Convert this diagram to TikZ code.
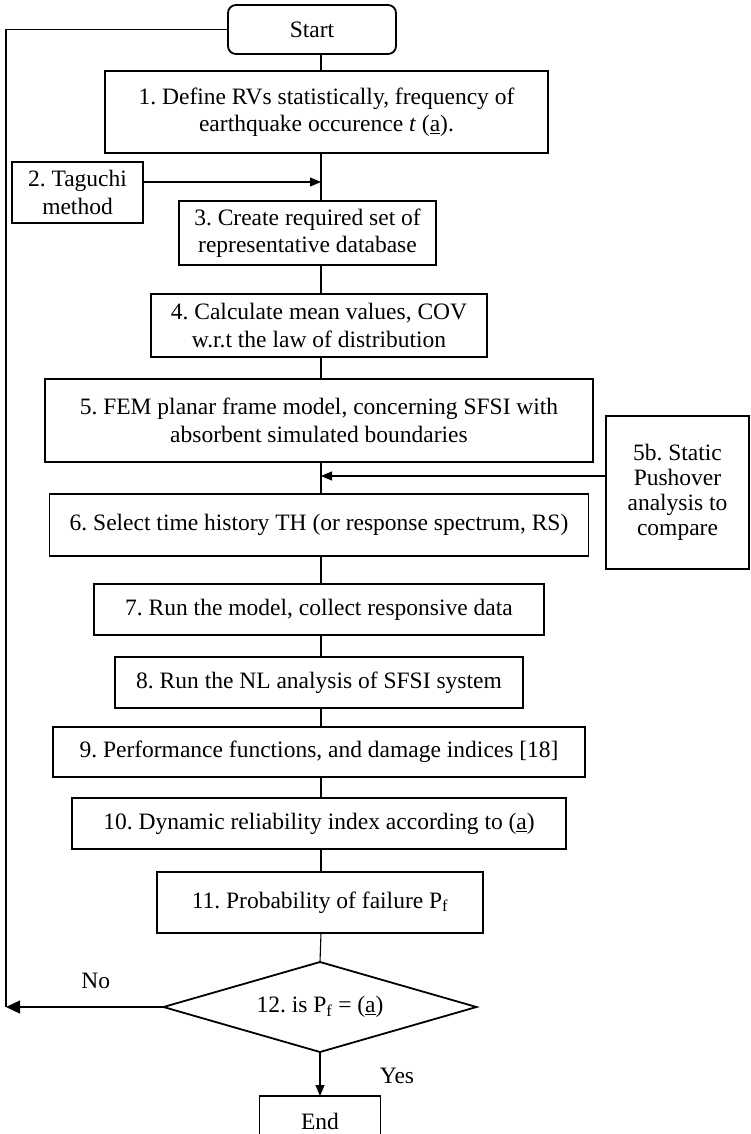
\documentclass[tikz,border=0pt]{standalone}
\usepackage{fontspec}
\setmainfont{Liberation Serif}
\usepackage{tikz}
\usetikzlibrary{positioning,arrows.meta,shapes.geometric}
\tikzset{
  stepbox/.style={rectangle, draw, line width=1.8pt, align=center, inner sep=3pt, outer sep=0pt},
  termbox/.style={stepbox, rounded corners=8pt},
  sidebox/.style={stepbox, font=\fontsize{23.5}{25}\selectfont},
  decision/.style={diamond, draw, line width=1.8pt, aspect=3.5, inner sep=0pt, outer sep=0pt},
  fwd/.style={->, line width=1.1pt, >={Triangle[length=11pt,width=9pt]}},
  fwdbig/.style={->, line width=1.1pt, >={Triangle[length=14pt,width=13pt]}},
  link/.style={line width=1.1pt},
}

\begin{document}
\frenchspacing
\begin{tikzpicture}[x=1pt, y=-1pt, every node/.style={font=\fontsize{23.5}{27.5}\selectfont}]
  \useasboundingbox (0,0) rectangle (751,1134);
  \coordinate (trunk) at (321,0);
  \coordinate (loopx) at (6,0);

  \node[termbox, minimum width=168pt, minimum height=49pt] (start) at (312,29.5) {Start};
  \node[stepbox, minimum width=443pt, minimum height=82pt] (s1) [below=17pt of start, xshift=14.5pt]
    {1. Define RVs statistically, frequency of\\ earthquake occurence \textit{t} (\underline{a}).};
  \node[stepbox, minimum width=131pt, minimum height=61pt] (tag) [below=9pt of s1.south west, xshift=-27.5pt]
    {2. Taguchi\\ method};
  \node[stepbox, minimum width=257pt, minimum height=64pt] (s3) [below=48pt of s1, xshift=-19pt]
    {3. Create required set of\\ representative database};
  \node[stepbox, minimum width=336pt, minimum height=63pt] (s4) [below=29pt of s3, xshift=11.5pt]
    {4. Calculate mean values, COV\\ w.r.t the law of distribution};
  \node[stepbox, minimum width=548pt, minimum height=83pt] (s5) [below=22pt of s4]
    {5. FEM planar frame model, concerning SFSI with\\ absorbent simulated boundaries};
  \node[sidebox, minimum width=143pt, minimum height=153pt] (s5b) [right=13pt of s5.south east, yshift=-30.5pt]
    {5b. Static\\ Pushover\\ analysis to\\ compare};
  \node[stepbox, minimum width=539pt, minimum height=62pt] (s6) [below=32pt of s5]
    {6. Select time history TH (or response spectrum, RS)};
  \node[stepbox, minimum width=450pt, minimum height=51pt] (s7) [below=28pt of s6]
    {7. Run the model, collect responsive data};
  \node[stepbox, minimum width=408pt, minimum height=51pt] (s8) [below=22pt of s7]
    {8. Run the NL analysis of SFSI system};
  \node[stepbox, minimum width=532pt, minimum height=50pt] (s9) [below=19pt of s8]
    {9. Performance functions, and damage indices [18]};
  \node[stepbox, minimum width=494pt, minimum height=51pt] (s10) [below=21pt of s9]
    {10. Dynamic reliability index according to (\underline{a})};
  \node[stepbox, minimum width=326pt, minimum height=61pt] (s11) [below=23pt of s10, xshift=1pt]
    {11. Probability of failure P\textsubscript{f}};
  \node[decision, minimum width=313pt, minimum height=90pt] (dec) [below=29pt of s11]
    {12. is P\textsubscript{f} = (\underline{a})\hspace{28pt}};
  \node[stepbox, minimum width=121pt, minimum height=50pt] (end) [below=44pt of dec] {End};

  % main line
  \draw[link] (start.south -| trunk) -- (s1.north -| trunk);
  \draw[link] (s1.south -| trunk) -- (s3.north -| trunk);
  \draw[link] (s3.south -| trunk) -- (s4.north -| trunk);
  \draw[link] (s4.south -| trunk) -- (s5.north -| trunk);
  \draw[link] (s5.south -| trunk) -- (s6.north -| trunk);
  \draw[link] (s6.south -| trunk) -- (s7.north -| trunk);
  \draw[link] (s7.south -| trunk) -- (s8.north -| trunk);
  \draw[link] (s8.south -| trunk) -- (s9.north -| trunk);
  \draw[link] (s9.south -| trunk) -- (s10.north -| trunk);
  \draw[link] (s10.south -| trunk) -- (s11.north -| trunk);
  \draw[link] (s11.south -| trunk) -- (dec.north);
  \draw[fwd] (dec.south) -- node[pos=0.55, right=56pt] (yeslbl) {Yes} (end.north);

  % side inputs
  \draw[fwd] ([yshift=10.5pt]tag.east) -- ([yshift=10.5pt]tag.east -| trunk);
  \draw[fwd] ([yshift=16.5pt]s5b.west) -- ([yshift=16.5pt]s5b.west -| trunk);

  % loop back
  \draw[link] (start.west) -| (dec.west -| loopx);
  \draw[fwdbig] (dec.west) -- node[pos=0.43, above=14pt] (nolbl) {No} (dec.west -| loopx);
\end{tikzpicture}
\end{document}
